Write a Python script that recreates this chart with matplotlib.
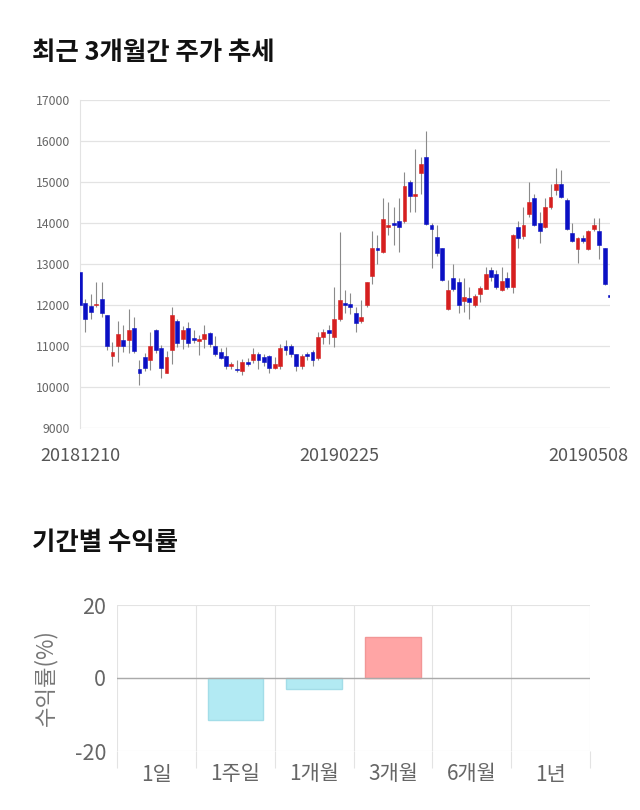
import numpy as np
import matplotlib
matplotlib.use('Agg')
import matplotlib.pyplot as plt

plt.rcParams['font.family'] = ['Noto Sans CJK KR', 'DejaVu Sans']
plt.rcParams['axes.unicode_minus'] = False

# daily candles (open / high / low / close), 20181210 .. 20190508
opens = [12800, 12050, 11980, 11990, 12150, 11750, 10750, 11000, 11150, 11150,
         11450, 10450, 10740, 10660, 11400, 10940, 10350, 10900, 11600, 11160,
         11450, 11200, 11110, 11160, 11320, 11000, 10860, 10750, 10500, 10430,
         10400, 10600, 10660, 10800, 10740, 10750, 10460, 10510, 11000, 11000,
         10800, 10500, 10800, 10850, 10700, 11210, 11390, 11210, 11650, 12040,
         12030, 11800, 11600, 12000, 12700, 13400, 13300, 13910, 14000, 14050,
         14050, 15000, 14660, 15210, 15600, 13950, 13650, 13400, 11900, 12650,
         12550, 12100, 12160, 12000, 12260, 12400, 12850, 12750, 12370, 12650,
         12450, 13910, 13690, 14210, 14600, 13990, 13910, 14400, 14800, 14940,
         14560, 13750, 13360, 13640, 13360, 13850, 13800, 13400, 12220]
highs = [12820, 12150, 12280, 12570, 12560, 11760, 11100, 11600, 11500, 11900,
         11700, 10650, 10840, 11350, 11420, 11020, 10880, 11960, 11650, 11480,
         11590, 11400, 11270, 11500, 11340, 11240, 10940, 10970, 10620, 10660,
         10680, 10700, 10940, 10850, 10800, 10780, 10740, 11050, 11150, 11060,
         10810, 10800, 10850, 10900, 11350, 11410, 11500, 12450, 13770, 12370,
         12300, 11960, 12120, 12570, 13800, 13700, 14600, 14500, 14400, 14600,
         15250, 15050, 15800, 15600, 16250, 14000, 13950, 13400, 12610, 12990,
         12650, 12650, 12450, 12260, 12470, 12930, 12930, 12850, 12930, 12800,
         13720, 14040, 14400, 15010, 14700, 14280, 14600, 14940, 15350, 15290,
         14600, 13990, 13660, 13700, 13830, 14110, 14110, 13400, 12600]
lows = [11800, 11350, 11650, 11960, 11700, 10900, 10500, 10600, 10850, 10820,
        10830, 10050, 10380, 10420, 10820, 10210, 10340, 10560, 10970, 10920,
        10970, 11070, 10780, 10950, 10980, 10760, 10680, 10430, 10430, 10370,
        10290, 10500, 10580, 10450, 10500, 10350, 10430, 10430, 10780, 10740,
        10390, 10430, 10660, 10500, 10660, 11060, 11060, 10970, 11600, 11800,
        11780, 11350, 11550, 11960, 12500, 13000, 13280, 13700, 13460, 13300,
        14000, 14260, 14260, 14700, 13950, 12910, 13200, 12580, 11880, 12340,
        11800, 11840, 11660, 11960, 12080, 12380, 12580, 12390, 12340, 12400,
        12290, 13400, 13600, 14150, 13920, 13500, 13880, 14350, 14680, 14600,
        13830, 13540, 13020, 13500, 13340, 13800, 13120, 12480, 12180]
closes = [12000, 11650, 11840, 12020, 11800, 11000, 10860, 11300, 11000, 11400,
          10870, 10350, 10460, 11000, 10900, 10460, 10740, 11750, 11070, 11400,
          11070, 11150, 11160, 11300, 11050, 10810, 10700, 10510, 10560, 10410,
          10600, 10550, 10800, 10660, 10600, 10460, 10550, 10940, 10900, 10800,
          10500, 10750, 10760, 10660, 11210, 11350, 11310, 11650, 12120, 12000,
          11960, 11550, 11700, 12550, 13400, 13350, 14100, 13950, 13960, 13910,
          14900, 14660, 14710, 15450, 13970, 13850, 13260, 12610, 12370, 12390,
          12000, 12200, 12070, 12220, 12410, 12750, 12690, 12450, 12590, 12450,
          13710, 13640, 13950, 14500, 13950, 13800, 14400, 14640, 14940, 14640,
          13850, 13560, 13640, 13550, 13800, 13950, 13460, 12500, 12200]
date_ticks = [0, 48, 94]
date_labels = ['20181210', '20190225', '20190508']

# period returns
periods = ['1일', '1주일', '1개월', '3개월', '6개월', '1년']
returns = [0, -11.5, -3.0, 11.2, 0, 0]

fig = plt.figure(figsize=(6.4, 8.1), dpi=100)
fig.patch.set_facecolor('white')

fig.text(32 / 640, 1 - 52 / 810, '최근 3개월간 주가 추세', fontsize=18.3,
         fontweight='bold', color='#111111', ha='left', va='center')
fig.text(32 / 640, 1 - 543 / 810, '기간별 수익률', fontsize=18.3,
         fontweight='bold', color='#111111', ha='left', va='center')

# ---- candlestick chart ----
ax = fig.add_axes([80 / 640, 1 - 428 / 810, 530 / 640, 328 / 810])
o = np.array(opens)
h = np.array(highs)
l = np.array(lows)
c = np.array(closes)
x = np.arange(len(o))
up = c >= o
colors = np.where(up, '#d61f1f', '#0b10c4')

ax.vlines(x, l, h, color='#8a8a8a', linewidth=0.8, zorder=2)
body_bot = np.minimum(o, c)
body_h = np.maximum(np.abs(c - o), 35)
ax.bar(x, body_h, bottom=body_bot, width=0.72, color=colors,
       edgecolor=colors, linewidth=0.4, zorder=3)

ax.set_xlim(0, len(o) - 1)
ax.set_ylim(9000, 17000)
ax.set_yticks(np.arange(9000, 17001, 1000))
ax.grid(axis='y', color='#e3e3e3', linewidth=0.9, zorder=0)
ax.tick_params(axis='y', length=0, pad=7, labelsize=8.8, labelcolor='#666666')
ax.set_xticks(date_ticks)
ax.set_xticklabels(date_labels)
ax.tick_params(axis='x', length=0, pad=14, labelsize=13, labelcolor='#555555')
for side in ['top', 'right', 'bottom']:
    ax.spines[side].set_visible(False)
ax.spines['left'].set_color('#e3e3e3')
ax.set_axisbelow(True)

# ---- period return bars ----
bx = fig.add_axes([117 / 640, 1 - 751 / 810, 473 / 640, 146 / 810])
r = np.array(returns)
pos = np.arange(len(periods))
nz = r != 0
bar_face = np.where(r >= 0, '#ffa5a5', '#b2eaf3')
bar_edge = np.where(r >= 0, '#f29696', '#a3dde8')
bx.bar(pos[nz], r[nz], width=0.7, color=bar_face[nz],
       edgecolor=bar_edge[nz], linewidth=1.0, zorder=3)
bx.set_xlim(-0.5, len(periods) - 0.5)
bx.set_ylim(-20, 20)
bx.set_yticks([-20, 0, 20])
bx.set_xticks(pos)
bx.set_xticklabels(periods)
bx.set_xticks(np.arange(len(periods) + 1) - 0.5, minor=True)
bx.tick_params(axis='x', which='major', length=0, pad=9, labelsize=15,
               labelcolor='#666666')
bx.tick_params(axis='x', which='minor', length=12, width=0.8,
               color='#e3e3e3', direction='out')
bx.tick_params(axis='y', length=0, pad=8, labelsize=15.5, labelcolor='#666666')
bx.grid(axis='x', which='minor', color='#e3e3e3', linewidth=0.8, zorder=0)
bx.grid(axis='y', color='#e3e3e3', linewidth=0.8, zorder=0)
bx.axhline(0, color='#aaaaaa', linewidth=1.0, zorder=4)
for side in bx.spines:
    bx.spines[side].set_visible(False)
bx.set_ylabel('수익률(%)', fontsize=16, color='#777777', va='center')
bx.yaxis.set_label_coords(-0.152, 0.5)

fig.savefig('out.png', dpi=100, facecolor='white')
